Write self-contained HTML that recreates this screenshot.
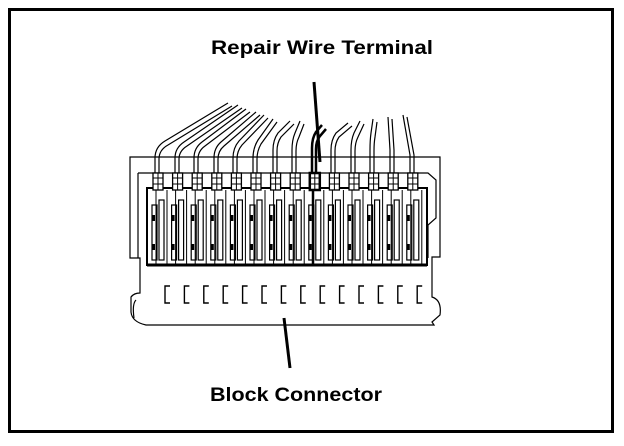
<!DOCTYPE html>
<html><head><style>
html,body{margin:0;padding:0;background:#fff;}
svg{display:block;}
text{font-family:"Liberation Sans",Arial,sans-serif;font-weight:bold;fill:#000;}
</style></head><body>
<svg width="624" height="446" viewBox="0 0 624 446" xmlns="http://www.w3.org/2000/svg">
<defs>
<g id="t" stroke="#000" fill="none">
<rect x="0" y="173" width="10" height="17" fill="#fff" stroke-width="1.3"/>
<line x1="5" y1="173" x2="5" y2="190" stroke-width="1"/>
<line x1="0" y1="178" x2="10" y2="178" stroke-width="1"/>
<line x1="0" y1="184" x2="10" y2="184" stroke-width="1"/>
<rect x="-1" y="205" width="5" height="55" stroke-width="1.2"/>
<rect x="6" y="200" width="5" height="60" stroke-width="1.2"/>
<line x1="3" y1="190" x2="3" y2="265" stroke-width="1"/>
<line x1="14" y1="190" x2="14" y2="265" stroke-width="1"/>
<rect x="-1" y="215" width="3" height="6" fill="#000" stroke="none"/>
<rect x="-1" y="244" width="3" height="6" fill="#000" stroke="none"/>
</g>
<path id="s" d="M5 286 H0 V303 H5" fill="none" stroke="#000" stroke-width="1.4"/>
</defs>
<rect x="9.5" y="9.5" width="603" height="422" fill="none" stroke="#000" stroke-width="3"/>
<text x="322" y="54" font-size="19" text-anchor="middle" textLength="222" lengthAdjust="spacingAndGlyphs">Repair Wire Terminal</text>
<text x="296" y="401" font-size="19" text-anchor="middle" textLength="172" lengthAdjust="spacingAndGlyphs">Block Connector</text>
<line x1="314" y1="82" x2="320" y2="162" stroke="#000" stroke-width="3"/>
<line x1="284" y1="318" x2="290" y2="368" stroke="#000" stroke-width="3"/>
<g fill="none" stroke="#000" stroke-width="1.2">
<path d="M130 157 H440 V257 H432 V297 Q442 300 440 315 L432 322 L434 325 H146 Q132 322 131 312 V297 Q134 293 140 293 V258 H130 Z"/>
<path d="M138 173 H428 L436 180 V218 L428 225 V258"/>
<path d="M138 173 V258"/>
<path d="M136 300 Q132 304 134 318"/>
</g>
<rect x="147" y="188" width="280" height="77" fill="none" stroke="#000" stroke-width="2"/>
<line x1="147" y1="265" x2="427" y2="265" stroke="#000" stroke-width="3"/>
<g fill="none" stroke="#000" stroke-width="1.2">
<path d="M155 173 V158 Q155 147 165 141 L228 103 M159 173 V159 Q159 150 168 145 L232 106"/>
<path d="M175 173 V158 Q175 148 184 142 L238 105 M179 173 V159 Q179 151 187 146 L242 108"/>
<path d="M194 173 V158 Q194 148 202 142 L246 109 M198 173 V159 Q198 151 205 146 L250 112"/>
<path d="M214 173 V158 Q214 148 221 142 L256 112 M218 173 V159 Q218 151 224 146 L260 115"/>
<path d="M233 173 V158 Q233 148 239 141 L264 115 M237 173 V159 Q237 151 242 145 L268 118"/>
<path d="M253 173 V158 Q253 148 258 140 L273 119 M257 173 V159 Q257 151 261 144 L277 122"/>
<path d="M273 173 V150 Q273 140 278 133 L290 121 M277 173 V151 Q277 143 281 137 L294 124"/>
<path d="M292 173 V150 Q292 140 295 133 L300 121 M296 173 V151 Q296 143 299 137 L304 124"/>
<path d="M331 173 V150 Q331 140 336 133 L348 123 M335 173 V151 Q335 143 339 137 L352 126"/>
<path d="M351 173 V150 Q351 140 354 133 L360 121 M355 173 V151 Q355 143 358 137 L364 124"/>
<path d="M370 173 V150 Q370 140 371 133 L373 119 M374 173 V151 Q374 143 375 137 L377 122"/>
<path d="M390 173 V150 L388 117 M394 173 V150 L392 119"/>
<path d="M410 173 V155 L403 115 M414 173 V155 L407 117"/>
</g>
<path d="M312 173 V148 Q312 138 316 132 L322 125 M316 173 V149 Q316 141 320 136 L326 129" fill="none" stroke="#000" stroke-width="2.5"/>
<use href="#t" x="153"/><use href="#t" x="172.6"/><use href="#t" x="192.2"/><use href="#t" x="211.8"/><use href="#t" x="231.4"/><use href="#t" x="251"/><use href="#t" x="270.6"/><use href="#t" x="290.2"/><use href="#t" x="309.8"/><use href="#t" x="329.4"/><use href="#t" x="349"/><use href="#t" x="368.6"/><use href="#t" x="388.2"/><use href="#t" x="407.8"/>
<rect x="309.8" y="173" width="10" height="17" fill="none" stroke="#000" stroke-width="2.5"/>
<line x1="313" y1="190" x2="313" y2="265" stroke="#000" stroke-width="2.5"/>
<use href="#s" x="165"/><use href="#s" x="184.4"/><use href="#s" x="203.8"/><use href="#s" x="223.2"/><use href="#s" x="242.6"/><use href="#s" x="262"/><use href="#s" x="281.4"/><use href="#s" x="300.8"/><use href="#s" x="320.2"/><use href="#s" x="339.6"/><use href="#s" x="359"/><use href="#s" x="378.4"/><use href="#s" x="397.8"/><use href="#s" x="417.2"/>
</svg>
</body></html>
